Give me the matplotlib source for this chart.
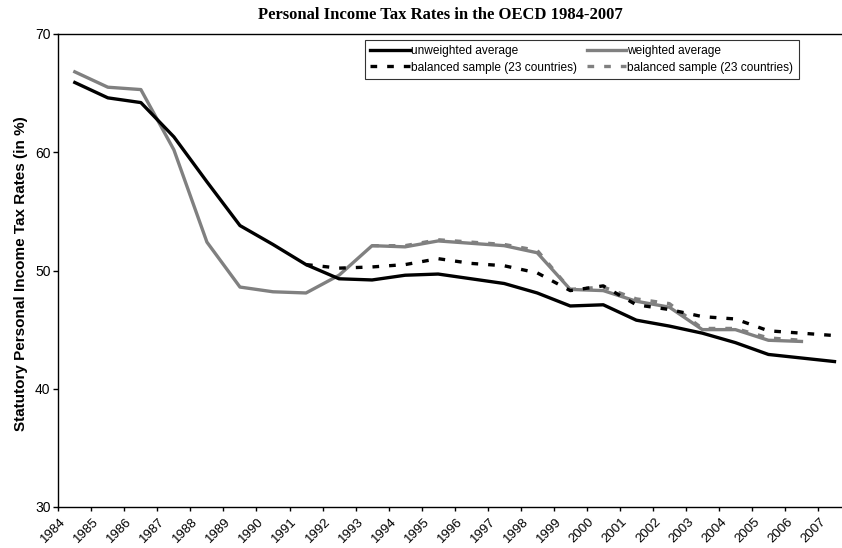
import matplotlib
matplotlib.use("Agg")
import matplotlib.pyplot as plt
import matplotlib.transforms as mtransforms
import numpy as np

# --- data (percent) ---
years = [str(y) for y in range(1984, 2008)]
unweighted = [65.9, 64.6, 64.2, 61.3, 57.5, 53.8, 52.2, 50.5, 49.3, 49.2, 49.6, 49.7,
              49.3, 48.9, 48.1, 47.0, 47.1, 45.8, 45.3, 44.7, 43.9, 42.9, 42.6, 42.3]
weighted = [66.8, 65.5, 65.3, 60.2, 52.4, 48.6, 48.2, 48.1, 49.6, 52.1, 52.0, 52.5,
            52.3, 52.1, 51.5, 48.4, 48.3, 47.4, 46.9, 45.0, 45.0, 44.1, 44.0, np.nan]
balanced_unweighted = [np.nan] * 7 + [50.5, 50.2, 50.3, 50.5, 51.0, 50.6, 50.4, 49.8,
                                      48.3, 48.7, 47.1, 46.7, 46.1, 45.9, 44.9, 44.7, 44.5]
balanced_weighted = [np.nan] * 9 + [52.1, 52.1, 52.6, 52.4, 52.2, 51.7, 48.4, 48.6,
                                    47.6, 47.2, 45.1, 45.1, 44.3, 44.1, np.nan]

GREY = "#808080"
SANS = "Liberation Sans"
SERIF = "Liberation Serif"

W, H = 842, 548
fig = plt.figure(figsize=(W / 100, H / 100), dpi=100)
# plot area: left 58 px, bottom axis at 507 px, top at 34 px; right edge runs past the image
ax = fig.add_axes([58.3 / W, (H - 507) / H, 792.7 / W, 473 / H])

x = np.arange(len(years))
lw = 2.4
ax.plot(x, weighted, color=GREY, lw=lw, label="weighted average", zorder=2)
ax.plot(x, balanced_weighted, color=GREY, lw=lw, dashes=(2, 3),
        label="balanced sample (23 countries)", zorder=3)
ax.plot(x, unweighted, color="black", lw=lw, label="unweighted average", zorder=4)
ax.plot(x, balanced_unweighted, color="black", lw=lw, dashes=(2, 3),
        label="balanced sample (23 countries)", zorder=5)

ax.set_xlim(-0.5, len(years) - 0.5)
ax.set_ylim(30, 70)

# y axis
ax.set_yticks([30, 40, 50, 60, 70])
ax.tick_params(axis="y", direction="out", length=3.6, width=1, pad=2,
               labelsize=10, labelcolor="black")
for lbl in ax.get_yticklabels():
    lbl.set_family(SANS)

# x axis: marks between categories, year labels at category centres
ax.set_xticks(np.arange(-0.5, len(years) - 0.5, 1))
ax.set_xticklabels([])
ax.tick_params(axis="x", which="major", direction="out", length=3, width=1)
ax.set_xticks(x, minor=True)
ax.set_xticklabels(years, minor=True, rotation=45, ha="right", va="top",
                   rotation_mode="anchor", family=SANS, fontsize=9.5)
ax.tick_params(axis="x", which="minor", length=0, pad=6.5)
shift = mtransforms.ScaledTranslation(-15 / 100, 0, fig.dpi_scale_trans)
for lbl in ax.get_xticklabels(minor=True):
    lbl.set_transform(lbl.get_transform() + shift)

for side in ("left", "bottom", "top"):
    ax.spines[side].set_color("black")
    ax.spines[side].set_linewidth(1.0)
ax.spines["right"].set_visible(False)

ax.set_ylabel("Statutory Personal Income Tax Rates (in %)", family=SANS,
              fontweight="bold", fontsize=11)
ax.yaxis.set_label_coords(28 / W, 0.5, transform=fig.transFigure)

fig.text(440 / W, 1 - 15 / H, "Personal Income Tax Rates in the OECD 1984-2007",
         ha="center", va="center", family=SERIF, fontweight="bold", fontsize=12)

# legend: row 1 solid lines, row 2 balanced samples
handles, labels = ax.get_legend_handles_labels()
order = [2, 3, 0, 1]
leg = ax.legend([handles[i] for i in order], [labels[i] for i in order],
                ncol=2, loc="upper left",
                bbox_to_anchor=(365 / W, 1 - 40 / H), bbox_transform=fig.transFigure,
                borderaxespad=0, frameon=True, fancybox=False, shadow=False,
                prop={"family": SANS, "size": 8.6}, handlelength=3.3,
                handletextpad=0.1, columnspacing=0.8, borderpad=0.45,
                labelspacing=0.35)
leg.get_frame().set_edgecolor("black")
leg.get_frame().set_linewidth(0.8)

fig.savefig("out.png", dpi=100)
